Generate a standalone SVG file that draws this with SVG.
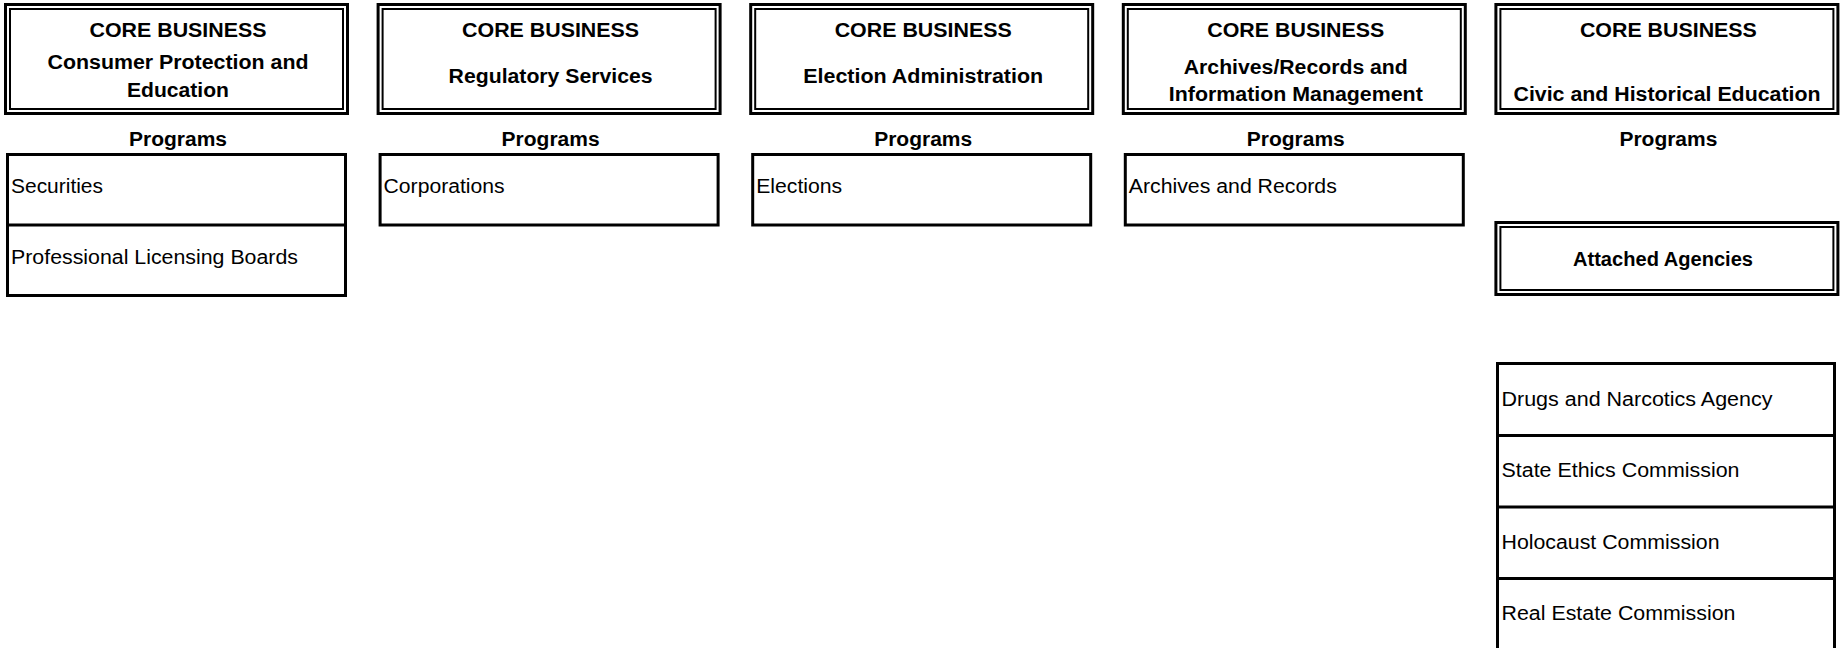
<svg xmlns="http://www.w3.org/2000/svg" width="1843" height="648" viewBox="0 0 1843 648">
<style>
.bg{fill:#ffffff}
.outer{fill:none;stroke:#000;stroke-width:3}
.inner{fill:none;stroke:#000;stroke-width:2}
.box{fill:none;stroke:#000;stroke-width:3}
.div{stroke:#000;stroke-width:3}
.b{font-family:"Liberation Sans",Arial,sans-serif;font-weight:bold;font-size:19.5px;fill:#000;text-anchor:middle}
.r{font-family:"Liberation Sans",Arial,sans-serif;font-size:19.5px;fill:#000}
</style>
<rect class="bg" x="0" y="0" width="1843" height="648"/>

<g id="core1">
<rect class="outer" x="5.5" y="4.5" width="342" height="109"/>
<rect class="inner" x="10" y="9" width="333" height="100"/>
<text class="b" x="178" y="37" textLength="177" lengthAdjust="spacingAndGlyphs">CORE BUSINESS</text>
<text class="b" x="178" y="69" textLength="261" lengthAdjust="spacingAndGlyphs">Consumer Protection and</text>
<text class="b" x="178" y="96.5" textLength="102" lengthAdjust="spacingAndGlyphs">Education</text>
</g>
<g id="core2">
<rect class="outer" x="378.1" y="4.5" width="342" height="109"/>
<rect class="inner" x="382.6" y="9" width="333" height="100"/>
<text class="b" x="550.6" y="37" textLength="177" lengthAdjust="spacingAndGlyphs">CORE BUSINESS</text>
<text class="b" x="550.6" y="83" textLength="204" lengthAdjust="spacingAndGlyphs">Regulatory Services</text>
</g>
<g id="core3">
<rect class="outer" x="750.7" y="4.5" width="342" height="109"/>
<rect class="inner" x="755.2" y="9" width="333" height="100"/>
<text class="b" x="923.2" y="37" textLength="177" lengthAdjust="spacingAndGlyphs">CORE BUSINESS</text>
<text class="b" x="923.2" y="83" textLength="240" lengthAdjust="spacingAndGlyphs">Election Administration</text>
</g>
<g id="core4">
<rect class="outer" x="1123.3" y="4.5" width="342" height="109"/>
<rect class="inner" x="1127.8" y="9" width="333" height="100"/>
<text class="b" x="1295.8" y="37" textLength="177" lengthAdjust="spacingAndGlyphs">CORE BUSINESS</text>
<text class="b" x="1295.8" y="73.5" textLength="224" lengthAdjust="spacingAndGlyphs">Archives/Records and</text>
<text class="b" x="1295.8" y="101" textLength="254" lengthAdjust="spacingAndGlyphs">Information Management</text>
</g>
<g id="core5">
<rect class="outer" x="1495.9" y="4.5" width="342" height="109"/>
<rect class="inner" x="1500.4" y="9" width="333" height="100"/>
<text class="b" x="1668.4" y="37" textLength="177" lengthAdjust="spacingAndGlyphs">CORE BUSINESS</text>
<text class="b" x="1667" y="101" textLength="307" lengthAdjust="spacingAndGlyphs">Civic and Historical Education</text>
</g>

<g id="programs-labels">
<text class="b" x="178" y="146" textLength="98" lengthAdjust="spacingAndGlyphs">Programs</text>
<text class="b" x="550.6" y="146" textLength="98" lengthAdjust="spacingAndGlyphs">Programs</text>
<text class="b" x="923.2" y="146" textLength="98" lengthAdjust="spacingAndGlyphs">Programs</text>
<text class="b" x="1295.8" y="146" textLength="98" lengthAdjust="spacingAndGlyphs">Programs</text>
<text class="b" x="1668.4" y="146" textLength="98" lengthAdjust="spacingAndGlyphs">Programs</text>
</g>

<g id="prog1">
<rect class="box" x="7.5" y="154.5" width="338" height="141"/>
<line class="div" x1="7.5" y1="225" x2="345.5" y2="225"/>
<text class="r" x="11" y="193" textLength="92" lengthAdjust="spacingAndGlyphs">Securities</text>
<text class="r" x="11" y="263.5" textLength="287" lengthAdjust="spacingAndGlyphs">Professional Licensing Boards</text>
</g>
<g id="prog2">
<rect class="box" x="380.1" y="154.5" width="338" height="70.5"/>
<text class="r" x="383.6" y="193" textLength="121" lengthAdjust="spacingAndGlyphs">Corporations</text>
</g>
<g id="prog3">
<rect class="box" x="752.7" y="154.5" width="338" height="70.5"/>
<text class="r" x="756.2" y="193" textLength="86" lengthAdjust="spacingAndGlyphs">Elections</text>
</g>
<g id="prog4">
<rect class="box" x="1125.3" y="154.5" width="338" height="70.5"/>
<text class="r" x="1128.8" y="193" textLength="208" lengthAdjust="spacingAndGlyphs">Archives and Records</text>
</g>

<g id="attached">
<rect class="outer" x="1495.9" y="222.5" width="342" height="72"/>
<rect class="inner" x="1500.4" y="227" width="333" height="63"/>
<text class="b" x="1663" y="266" textLength="180" lengthAdjust="spacingAndGlyphs">Attached Agencies</text>
</g>

<g id="agencies">
<rect class="box" x="1497.5" y="363.5" width="337" height="287"/>
<line class="div" x1="1497.5" y1="435.5" x2="1834.5" y2="435.5"/>
<line class="div" x1="1497.5" y1="507" x2="1834.5" y2="507"/>
<line class="div" x1="1497.5" y1="578.5" x2="1834.5" y2="578.5"/>
<text class="r" x="1501.5" y="406" textLength="271" lengthAdjust="spacingAndGlyphs">Drugs and Narcotics Agency</text>
<text class="r" x="1501.5" y="477" textLength="238" lengthAdjust="spacingAndGlyphs">State Ethics Commission</text>
<text class="r" x="1501.5" y="549" textLength="218" lengthAdjust="spacingAndGlyphs">Holocaust Commission</text>
<text class="r" x="1501.5" y="620" textLength="234" lengthAdjust="spacingAndGlyphs">Real Estate Commission</text>
</g>

<g id="connectors"></g>
</svg>
